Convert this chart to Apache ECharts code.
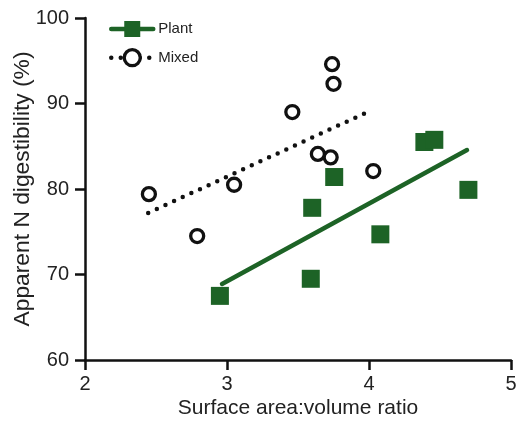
<!DOCTYPE html>
<html>
<head>
<meta charset="utf-8">
<script src="https://cdn.jsdelivr.net/npm/echarts@6/dist/echarts.min.js"></script>
<style>
html,body{margin:0;padding:0;background:#fff;}
#chart{width:517px;height:422px;}
</style>
</head>
<body>
<div id="chart"></div>
<script>
// Data
var plantX = [2.95, 3.59, 3.60, 3.755, 4.08, 4.39, 4.46, 4.70];
var plantY = [67.5, 69.5, 77.8, 81.4, 74.7, 85.5, 85.75, 79.9];
var mixedX = [2.45, 2.79, 3.05, 3.46, 3.74, 3.75, 3.64, 3.73, 4.03];
var mixedY = [79.4, 74.5, 80.5, 89.0, 94.6, 92.3, 84.1, 83.7, 82.1];
var plantFitX = [2.965, 4.69];
var plantFitY = [68.9, 84.55];
var mixedFitX = [2.445, 3.99];
var mixedFitY = [77.2, 89.0];
var xTicks = [2, 3, 4, 5];
var yTicks = [60, 70, 80, 90, 100];
var seriesNames = ['Plant', 'Mixed'];

function pairs(xs, ys) { return xs.map(function (x, i) { return [x, ys[i]]; }); }

var GREEN = '#1d6326';
var BLACK = '#111111';
var FONT = '"Liberation Sans", Arial, sans-serif';

var chart = echarts.init(document.getElementById('chart'), null, {renderer: 'canvas'});
chart.setOption({
  animation: false,
  backgroundColor: '#ffffff',
  textStyle: {fontFamily: FONT},
  grid: {left: 85, right: 6, top: 18, bottom: 62, containLabel: false, outerBoundsMode: 'none'},
  legend: {
    data: [
      {name: seriesNames[0], lineStyle: {width: 4.5, color: GREEN, cap: 'round'}},
      {name: seriesNames[1], lineStyle: {width: 4.5, color: BLACK, type: [0, 9.5], cap: 'round'},
       itemStyle: {borderWidth: 3.3, borderColor: BLACK, color: '#ffffff'}}
    ],
    orient: 'vertical',
    left: 104,
    top: 16,
    padding: 5,
    itemWidth: 42,
    itemHeight: 20,
    itemGap: 11,
    selectedMode: false,
    textStyle: {fontSize: 15, color: '#222', fontFamily: FONT}
  },
  xAxis: {
    type: 'value',
    min: xTicks[0],
    max: xTicks[xTicks.length - 1],
    interval: 1,
    name: 'Surface area:volume ratio',
    nameLocation: 'middle',
    nameGap: 38,
    nameMoveOverlap: false,
    nameTextStyle: {fontSize: 21, color: '#222', fontFamily: FONT},
    axisLine: {lineStyle: {color: BLACK, width: 2.5}},
    axisTick: {length: 10, lineStyle: {color: BLACK, width: 2.5}},
    axisLabel: {fontSize: 20, color: '#222', margin: 14, fontFamily: FONT},
    splitLine: {show: false}
  },
  yAxis: {
    type: 'value',
    min: yTicks[0],
    max: yTicks[yTicks.length - 1],
    interval: 10,
    name: 'Apparent N digestibility (%)',
    nameLocation: 'middle',
    nameGap: 51,
    nameMoveOverlap: false,
    nameTextStyle: {fontSize: 22.8, color: '#222', fontFamily: FONT},
    axisLine: {show: true, lineStyle: {color: BLACK, width: 2.5}},
    axisTick: {show: true, length: 10, lineStyle: {color: BLACK, width: 2.5}},
    axisLabel: {fontSize: 20, color: '#222', margin: 16, fontFamily: FONT},
    splitLine: {show: false}
  },
  series: [
    {
      name: seriesNames[0],
      type: 'line',
      data: pairs(plantFitX, plantFitY),
      symbol: 'rect',
      symbolSize: 18,
      showSymbol: false,
      z: 2,
      itemStyle: {color: GREEN},
      lineStyle: {color: GREEN, width: 4.5, cap: 'round'}
    },
    {
      name: seriesNames[1],
      type: 'line',
      data: pairs(mixedFitX, mixedFitY),
      symbol: 'circle',
      symbolSize: 14,
      showSymbol: false,
      z: 2,
      itemStyle: {color: '#ffffff', borderColor: BLACK, borderWidth: 3.3},
      lineStyle: {color: BLACK, width: 4.5, type: [0, 9.5], cap: 'round'}
    },
    {
      name: seriesNames[0],
      type: 'scatter',
      data: pairs(plantX, plantY),
      symbol: 'rect',
      symbolSize: 18,
      z: 3,
      itemStyle: {color: GREEN, opacity: 1}
    },
    {
      name: seriesNames[1],
      type: 'scatter',
      data: pairs(mixedX, mixedY),
      symbol: 'circle',
      symbolSize: 13,
      z: 4,
      itemStyle: {color: 'rgba(255,255,255,0)', borderColor: BLACK, borderWidth: 3.3, opacity: 1}
    }
  ]
});
</script>
</body>
</html>
